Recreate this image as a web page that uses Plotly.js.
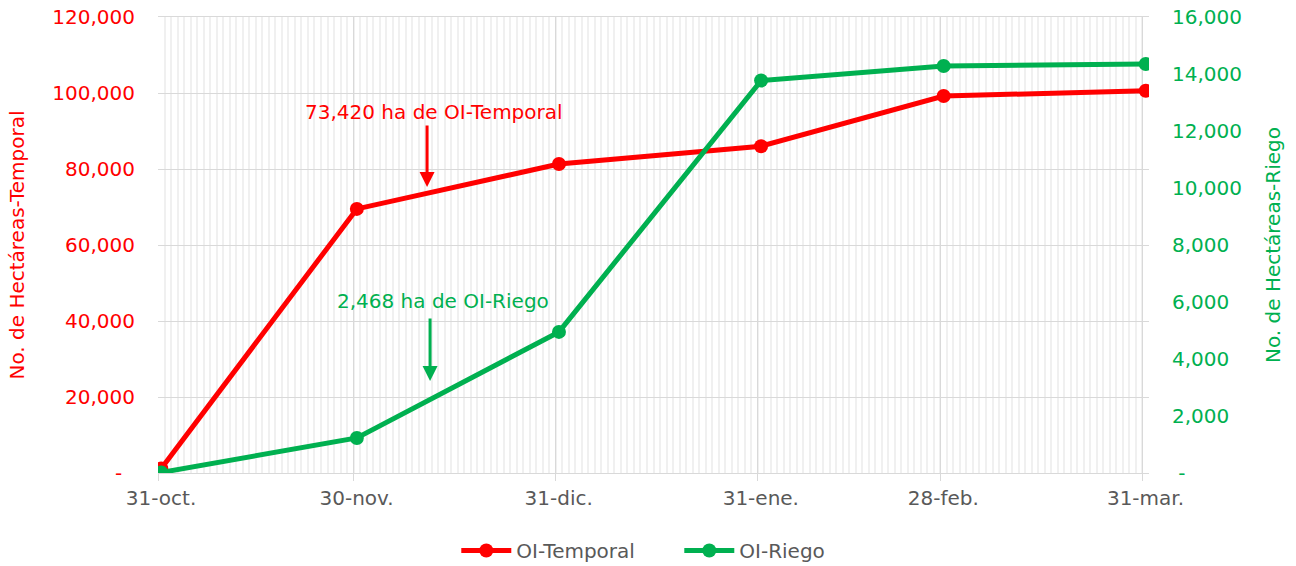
<!DOCTYPE html>
<html>
<head>
<meta charset="utf-8">
<script src="https://cdn.plot.ly/plotly-3.0.1.min.js"></script>
<style>html,body{margin:0;padding:0;background:#fff;}#chart{width:1296px;height:566px;}</style>
</head>
<body>
<div id="chart"></div>
<script>
// Data
const dates = ['2022-10-31', '2022-11-30', '2022-12-31', '2023-01-31', '2023-02-28', '2023-03-31'];
const dateLabels = ['31-oct.', '30-nov.', '31-dic.', '31-ene.', '28-feb.', '31-mar.'];
const temporal = [1200, 69500, 81300, 86000, 99200, 100600];
const riego = [20, 1230, 4950, 13770, 14280, 14350];
const leftTicks = [0, 20000, 40000, 60000, 80000, 100000, 120000];
const leftTickText = ['-\u00A0\u00A0', '20,000', '40,000', '60,000', '80,000', '100,000', '120,000'];
const rightTicks = [0, 2000, 4000, 6000, 8000, 10000, 12000, 14000, 16000];
const rightTickText = ['\u00A0-', '2,000', '4,000', '6,000', '8,000', '10,000', '12,000', '14,000', '16,000'];

const RED = '#FF0000';
const GREEN = '#00B050';
const GREY = '#595959';
const FONT = 'DejaVu Sans';
const FS = 20;

const xs = dates.map(d => d + ' 12:00');

const traces = [
  {x: xs, y: temporal, name: 'OI-Temporal', type: 'scatter', mode: 'lines+markers',
   line: {color: RED, width: 5}, marker: {color: RED, size: 14}, yaxis: 'y'},
  {x: xs, y: riego, name: 'OI-Riego', type: 'scatter', mode: 'lines+markers',
   line: {color: GREEN, width: 5}, marker: {color: GREEN, size: 14}, yaxis: 'y2'}
];

const layout = {
  width: 1296, height: 566,
  margin: {l: 158, r: 147, t: 17, b: 93, autoexpand: false},
  paper_bgcolor: '#fff', plot_bgcolor: '#fff',
  font: {family: FONT, size: FS, color: GREY},
  showlegend: true,
  legend: {orientation: 'h', x: 0.301, xanchor: 'left', y: -0.17, yanchor: 'middle',
           font: {family: FONT, size: FS, color: GREY}, itemwidth: 50, entrywidth: 158,
           traceorder: 'normal'},
  xaxis: {
    type: 'date', range: ['2022-10-31', '2023-04-01'],
    tickvals: dates, ticktext: dateLabels, ticklabelshift: 3,
    ticks: 'outside', ticklen: 7, tickcolor: '#d9d9d9', tickwidth: 1,
    showgrid: true, gridcolor: '#d9d9d9', gridwidth: 1,
    minor: {dtick: 86400000, tick0: '2022-10-31', showgrid: true, gridcolor: '#f0f0f0', gridwidth: 2, ticks: ''},
    showline: true, linecolor: '#d9d9d9', mirror: true,
    zeroline: false, fixedrange: true, automargin: false,
    tickfont: {family: FONT, size: FS, color: GREY}
  },
  yaxis: {
    range: [0, 120000], tickvals: leftTicks, ticktext: leftTickText,
    showgrid: true, gridcolor: '#d9d9d9', zeroline: false,
    ticks: '', ticklabelstandoff: 22, automargin: false,
    tickfont: {family: FONT, size: FS, color: RED},
    title: {text: 'No. de Hectáreas-Temporal', font: {family: FONT, size: FS, color: RED}, standoff: 22}
  },
  yaxis2: {
    range: [0, 16000], tickvals: rightTicks, ticktext: rightTickText,
    overlaying: 'y', side: 'right', showgrid: false, zeroline: false,
    ticks: '', ticklabelstandoff: 22, automargin: false,
    tickfont: {family: FONT, size: FS, color: GREEN},
    title: {text: 'No. de Hectáreas-Riego', font: {family: FONT, size: FS, color: GREEN}, standoff: 25}
  },
  annotations: [
    {x: '2022-12-12 08:00', y: 95000, xref: 'x', yref: 'y', text: '73,420 ha de OI-Temporal',
     showarrow: false, font: {family: FONT, size: FS, color: RED}, xanchor: 'center', yanchor: 'middle'},
    {x: '2022-12-11 06:30', y: 75260, xref: 'x', yref: 'y', text: '', showarrow: true,
     ax: 0, ay: -63, arrowcolor: RED, arrowwidth: 3, arrowhead: 2, arrowsize: 1, standoff: 0},
    {x: '2022-12-13 17:00', y: 6035, xref: 'x', yref: 'y2', text: '2,468 ha de OI-Riego',
     showarrow: false, font: {family: FONT, size: FS, color: GREEN}, xanchor: 'center', yanchor: 'middle'},
    {x: '2022-12-11 17:30', y: 3228, xref: 'x', yref: 'y2', text: '', showarrow: true,
     ax: 0, ay: -64, arrowcolor: GREEN, arrowwidth: 3, arrowhead: 2, arrowsize: 1, standoff: 0}
  ]
};

Plotly.newPlot('chart', traces, layout, {displayModeBar: false, staticPlot: true});
</script>
</body>
</html>
